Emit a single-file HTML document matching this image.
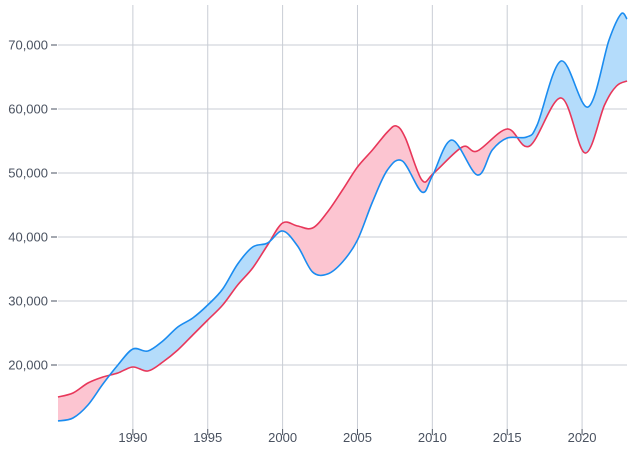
<!DOCTYPE html>
<html><head><meta charset="utf-8"><style>
body{margin:0;background:#fff}
svg{display:block}
text{font-family:"Liberation Sans",sans-serif;font-size:13px;fill:#4a5260}
</style></head><body>
<svg id="s" width="640" height="459" xmlns="http://www.w3.org/2000/svg">
<g id="grid" stroke="#c9cdd5" stroke-width="1"></g>
<defs>
<clipPath id="aboveRed"><path id="cr"/></clipPath>
<clipPath id="aboveBlue"><path id="cb"/></clipPath>
</defs>
<path id="fb" fill="#b4dcfb" clip-path="url(#aboveRed)"/>
<path id="fr" fill="#fcc5d1" clip-path="url(#aboveBlue)"/>
<path id="lr" fill="none" stroke="#e8375a" stroke-width="1.6"/>
<path id="lb" fill="none" stroke="#1a8cf0" stroke-width="1.6"/>
<g id="lab"></g>
</svg>
<script>
const X=y=>58+(y-1985)*(569/38);
const Yv=v=>365-(v-20000)*0.0064;
const blue=[[1985,421],[1986,418],[1987,405],[1988,384],[1989,365],[1990,349],[1991,351],[1992,341],[1993,327],[1994,318],[1995,305],[1996,289],[1997,264],[1998,247],[1999,243],[2000,231],[2001,246],[2002,272],[2003,274],[2004,262],[2005,240],[2006,202],[2007,170],[2008,161],[2009.3,192],[2010,176],[2011.3,140],[2013,175],[2014,150],[2015,138],[2016.3,137],[2017,125],[2018.6,61],[2020.4,107],[2021.8,40],[2022.6,14],[2023,19]];
const red=[[1985,397],[1986,393],[1987,383],[1988,377],[1989,373],[1990,367],[1991,371],[1992,362],[1993,350],[1994,335],[1995,320],[1996,305],[1997,285],[1998,268],[1999,245],[2000,223],[2001,226],[2002,228],[2003,212],[2004,190],[2005,167],[2006,150],[2007,132],[2007.6,126],[2008.2,138],[2009.3,180],[2010.1,173],[2012,147],[2013,151],[2015,129],[2016.5,146],[2018.6,98],[2020.2,153],[2021.5,105],[2022.3,86],[2023,81]];
function path(d){const p=d.map(a=>[X(a[0]),a[1]]);let s="M"+p[0][0]+","+p[0][1];
for(let i=0;i<p.length-1;i++){const p0=p[Math.max(0,i-1)],p1=p[i],p2=p[i+1],p3=p[Math.min(p.length-1,i+2)];
const c1=[p1[0]+(p2[0]-p0[0])/6,p1[1]+(p2[1]-p0[1])/6],c2=[p2[0]-(p3[0]-p1[0])/6,p2[1]-(p3[1]-p1[1])/6];
s+=`C${c1[0]},${c1[1]} ${c2[0]},${c2[1]} ${p2[0]},${p2[1]}`;}return s;}
const pb=path(blue),pr=path(red);
document.getElementById('lb').setAttribute('d',pb);
document.getElementById('lr').setAttribute('d',pr);
document.getElementById('fb').setAttribute('d',pb+"L627,440L58,440Z");
document.getElementById('fr').setAttribute('d',pr+"L627,440L58,440Z");
document.getElementById('cr').setAttribute('d',pr+"L627,0L58,0Z");
document.getElementById('cb').setAttribute('d',pb+"L627,0L58,0Z");
let g="",l="";
for(let v=20000;v<=70000;v+=10000){const y=Yv(v);g+=`<line x1="58" x2="627" y1="${y}" y2="${y}"/><line x1="51" x2="57" y1="${y}" y2="${y}" stroke="#4a5260"/>`;
l+=`<text x="48" y="${y+4.5}" text-anchor="end">${v.toLocaleString('en-US')}</text>`;}
for(let yr=1990;yr<=2020;yr+=5){const x=X(yr);g+=`<line x1="${x}" x2="${x}" y1="5" y2="429"/><line x1="${x}" x2="${x}" y1="429" y2="435" stroke="#4a5260"/>`;
l+=`<text x="${x}" y="442" text-anchor="middle">${yr}</text>`;}
document.getElementById('grid').innerHTML=g;
document.getElementById('lab').innerHTML=l;
</script>
</body></html>
